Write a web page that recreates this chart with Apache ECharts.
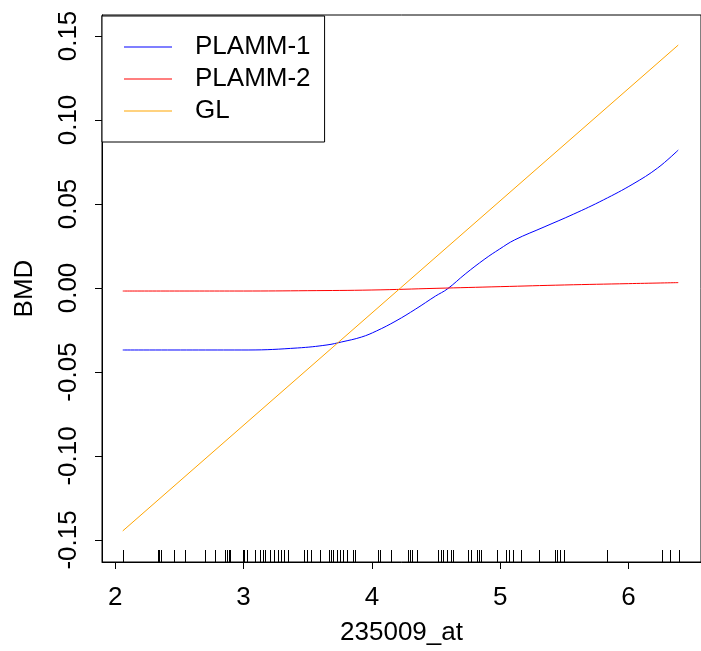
<!DOCTYPE html>
<html>
<head>
<meta charset="utf-8">
<script src="https://cdn.jsdelivr.net/npm/echarts@6/dist/echarts.min.js"></script>
<style>
  html, body { margin: 0; padding: 0; background: #fff; }
  #chart { width: 701px; height: 651px; }
</style>
</head>
<body>
<div id="chart"></div>
<script>
// data
const plamm1X = [2.058, 2.65, 3.035, 3.419, 3.65, 3.765, 3.919, 4.035, 4.188, 4.342, 4.496,
  4.588, 4.727, 4.881, 4.996, 5.112, 5.342, 5.573, 5.804, 6.035, 6.227, 6.388];
const plamm1Y = [-0.0369, -0.0369, -0.0369, -0.0357, -0.0339, -0.0321, -0.0292, -0.0256, -0.0196,
  -0.0125, -0.0048, -0.0006, 0.0083, 0.0173, 0.0232, 0.0286, 0.0363, 0.044, 0.0524, 0.0619,
  0.0714, 0.0821];
const plamm2X = [2.058, 3.0, 3.5, 4.0, 4.5, 5.0, 5.5, 6.0, 6.388];
const plamm2Y = [-0.0018, -0.0018, -0.0016, -0.0012, -0.0002, 0.0008, 0.0018, 0.0026, 0.0032];
const glX = [2.058, 6.388];
const glY = [-0.1446, 0.1446];
const rugX = [2.06, 2.329, 2.342, 2.355, 2.458, 2.542, 2.70, 2.778, 2.854, 2.869, 2.883, 2.896,
  2.992, 3.004, 3.023, 3.086, 3.125, 3.15, 3.165, 3.202, 3.24, 3.265, 3.291, 3.317, 3.346,
  3.471, 3.496, 3.522, 3.594, 3.665, 3.681, 3.696, 3.727, 3.752, 3.778, 3.804, 3.85, 3.868,
  4.048, 4.065, 4.15, 4.285, 4.296, 4.315, 4.355, 4.519, 4.535, 4.558, 4.586, 4.615, 4.635,
  4.746, 4.769, 4.823, 4.835, 4.854, 4.973, 5.048, 5.067, 5.1, 5.165, 5.302, 5.425, 5.442,
  5.465, 5.496, 5.835, 6.26, 6.322, 6.394];
const xTicks = [2, 3, 4, 5, 6];
const yTicks = [-0.15, -0.1, -0.05, 0, 0.05, 0.1, 0.15];

const X_MIN = 1.8962, X_MAX = 6.5654;
const Y_MIN = -0.1631, Y_MAX = 0.1625;
const font = "'Liberation Sans', Arial, sans-serif";

function pairs(xs, ys) {
  return xs.map((x, i) => [x, ys[i]]);
}

const chart = echarts.init(document.getElementById("chart"));
const option = {
  animation: false,
  backgroundColor: "#fff",
  textStyle: { fontFamily: font },
  grid: {
    left: 102,
    top: 15,
    width: 607,
    height: 547,
    show: true,
    borderColor: "#000",
    borderWidth: 1,
  },
  legend: {
    orient: "vertical",
    left: 102,
    top: 16,
    data: ["PLAMM-1", "PLAMM-2", "GL"],
    icon: "rect",
    itemWidth: 48,
    itemHeight: 1,
    itemGap: 6,
    padding: [18, 14, 18, 22],
    backgroundColor: "#fff",
    borderColor: "#000",
    borderWidth: 1,
    borderRadius: 0,
    textStyle: {
      fontFamily: font,
      fontSize: 26,
      lineHeight: 26,
      color: "#000",
      padding: [0, 0, 0, 18],
    },
  },
  xAxis: {
    type: "value",
    min: X_MIN,
    max: X_MAX,
    name: "235009_at",
    nameLocation: "middle",
    nameGap: 58,
    nameTextStyle: { fontFamily: font, fontSize: 26, color: "#000" },
    axisLine: { show: true, onZero: false, lineStyle: { color: "#000", width: 1 } },
    splitLine: { show: false },
    axisTick: {
      show: true,
      inside: false,
      length: 7,
      customValues: xTicks,
      lineStyle: { color: "#000", width: 1 },
    },
    axisLabel: {
      customValues: xTicks,
      margin: 23,
      fontFamily: font,
      fontSize: 26,
      color: "#000",
      formatter: (v) => String(v),
    },
  },
  yAxis: {
    type: "value",
    min: Y_MIN,
    max: Y_MAX,
    name: "BMD",
    nameLocation: "middle",
    nameRotate: 90,
    nameGap: 64,
    nameTextStyle: { fontFamily: font, fontSize: 26, color: "#000" },
    axisLine: { show: true, onZero: false, lineStyle: { color: "#000", width: 1 } },
    splitLine: { show: false },
    axisTick: {
      show: true,
      inside: false,
      length: 7,
      customValues: yTicks,
      lineStyle: { color: "#000", width: 1 },
    },
    axisLabel: {
      customValues: yTicks,
      rotate: 90,
      margin: 20,
      fontFamily: font,
      fontSize: 26,
      color: "#000",
      formatter: (v) => v.toFixed(2),
    },
  },
  series: [
    {
      name: "rug",
      type: "custom",
      silent: true,
      data: rugX.map((x) => [x, Y_MIN]),
      renderItem: function (params, api) {
        const p = api.coord([api.value(0), api.value(1)]);
        const x = Math.round(p[0]) + 0.5;
        return {
          type: "line",
          shape: { x1: x, y1: p[1], x2: x, y2: p[1] - 12 },
          style: { stroke: "#000", lineWidth: 1 },
        };
      },
      z: 1,
    },
    {
      name: "PLAMM-1",
      type: "line",
      data: pairs(plamm1X, plamm1Y),
      symbol: "none",
      smooth: 0.4,
      color: "#0000ff",
      lineStyle: { color: "#0000ff", width: 1 },
    },
    {
      name: "PLAMM-2",
      type: "line",
      data: pairs(plamm2X, plamm2Y),
      symbol: "none",
      smooth: 0.4,
      color: "#ff0000",
      lineStyle: { color: "#ff0000", width: 1 },
    },
    {
      name: "GL",
      type: "line",
      data: pairs(glX, glY),
      symbol: "none",
      color: "#ffa500",
      lineStyle: { color: "#ffa500", width: 1 },
    },
  ],
};
chart.setOption(option);
</script>
</body>
</html>
